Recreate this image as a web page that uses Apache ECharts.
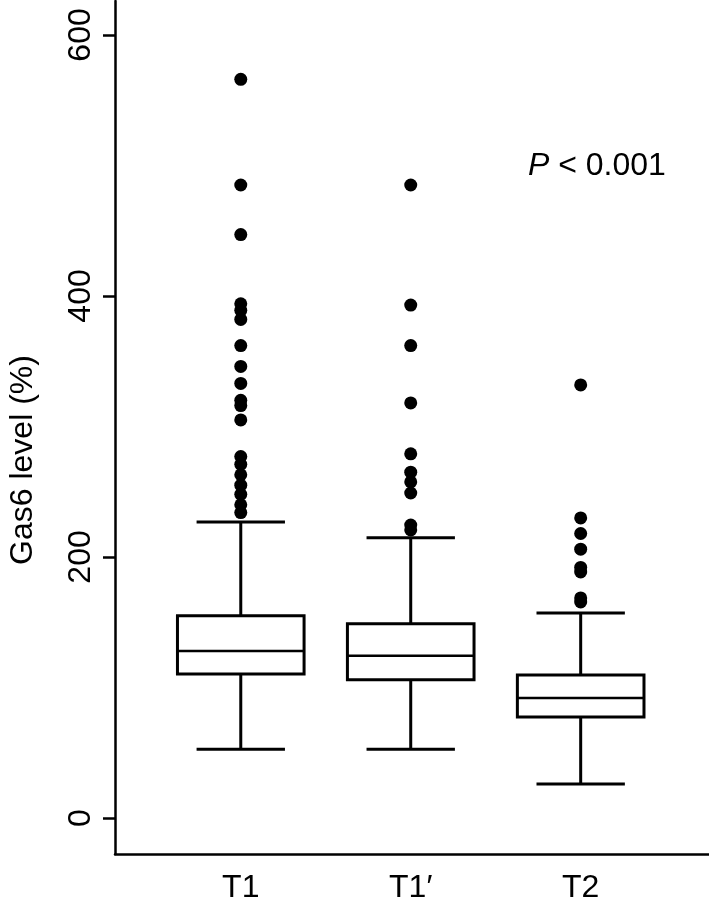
<!DOCTYPE html>
<html>
<head>
<meta charset="utf-8">
<script src="https://cdn.jsdelivr.net/npm/echarts@6/dist/echarts.min.js"></script>
<style>
  html, body { margin: 0; padding: 0; background: #fff; }
  #chart { width: 709px; height: 908px; }
</style>
</head>
<body>
<div id="chart"></div>
<script>
// groups on the x axis (value axis, one unit per group)
const categories = ['T1', 'T1\u2032', 'T2']
const groupPos = [1, 2, 3]

// box summary, Gas6 level (%)
const lowWhisker = [52.6, 52.6, 26]
const q1 = [110.3, 106, 77.4]
const median = [128, 124.4, 92]
const q3 = [155, 148.9, 109.6]
const highWhisker = [226.8, 214.8, 157]

// outliers per group
const outT1 = [566, 485, 447, 394, 389, 382, 362, 346, 333, 320, 316, 305, 277, 271, 263, 255, 248, 240, 234]
const outT1b = [485, 393, 362, 318, 279, 265, 257.5, 249, 224.5, 220.7]
const outT2 = [331.8, 229.9, 218, 206, 192, 188.5, 168.6, 165.5]

const yTicks = [0, 200, 400, 600]

const boxData = groupPos.map((x, i) => [x, lowWhisker[i], q1[i], median[i], q3[i], highWhisker[i]])
const outlierData = []
;[outT1, outT1b, outT2].forEach((arr, i) => {
  arr.forEach(v => outlierData.push([groupPos[i], v]))
})

const font = '"Liberation Sans", Arial, Helvetica, sans-serif'

function renderBox(params, api) {
  const x = api.value(0)
  const lo = api.coord([x, api.value(1)])
  const b1 = api.coord([x, api.value(2)])
  const md = api.coord([x, api.value(3)])
  const b3 = api.coord([x, api.value(4)])
  const hi = api.coord([x, api.value(5)])
  const bw = api.size([0.745, 0])[0]
  const cw = api.size([0.52, 0])[0]
  const line = {stroke: '#000', lineWidth: 3}
  return {
    type: 'group',
    children: [
      {type: 'line', shape: {x1: hi[0], y1: hi[1], x2: b3[0], y2: b3[1]}, style: line},
      {type: 'line', shape: {x1: b1[0], y1: b1[1], x2: lo[0], y2: lo[1]}, style: line},
      {type: 'line', shape: {x1: hi[0] - cw / 2, y1: hi[1], x2: hi[0] + cw / 2, y2: hi[1]}, style: line},
      {type: 'line', shape: {x1: lo[0] - cw / 2, y1: lo[1], x2: lo[0] + cw / 2, y2: lo[1]}, style: line},
      {type: 'rect', shape: {x: b3[0] - bw / 2, y: b3[1], width: bw, height: b1[1] - b3[1]},
        style: {stroke: '#000', lineWidth: 3, fill: '#fff'}},
      {type: 'line', shape: {x1: md[0] - bw / 2, y1: md[1], x2: md[0] + bw / 2, y2: md[1]}, style: {stroke: '#000', lineWidth: 2.5}}
    ]
  }
}

const myChart = echarts.init(document.getElementById('chart'))
const options = {
  animation: false,
  backgroundColor: '#fff',
  grid: {
    left: 115,
    right: 0,
    top: 1,
    bottom: 54
  },
  xAxis: {
    type: 'value',
    min: 0.26,
    max: 3.755,
    splitLine: {show: false},
    axisLine: {onZero: false, lineStyle: {color: '#000', width: 2.5}},
    axisTick: {show: false},
    axisLabel: {
      customValues: groupPos,
      formatter: v => categories[Math.round(v) - 1] || '',
      color: '#000',
      fontSize: 32,
      fontFamily: font,
      margin: 18
    }
  },
  yAxis: {
    type: 'value',
    min: -27.6,
    max: 626,
    splitLine: {show: false},
    axisLine: {show: true, onZero: false, lineStyle: {color: '#000', width: 2.5}},
    axisTick: {show: true, customValues: yTicks, length: 12, lineStyle: {color: '#000', width: 2.5}},
    axisLabel: {
      customValues: yTicks,
      rotate: 90,
      color: '#000',
      fontSize: 32,
      fontFamily: font,
      margin: 18
    }
  },
  graphic: [
    {
      type: 'text',
      x: 23,
      y: 460,
      rotation: Math.PI / 2,
      style: {
        text: 'Gas6 level (%)',
        font: '32px ' + font,
        fill: '#000',
        align: 'center',
        verticalAlign: 'middle'
      }
    },
    {
      type: 'text',
      x: 528,
      y: 166,
      style: {
        text: '{i|P} < 0.001',
        font: '32px ' + font,
        fill: '#000',
        align: 'left',
        verticalAlign: 'middle',
        rich: {
          i: {fontStyle: 'italic', fontSize: 32, fontFamily: font, fill: '#000'}
        }
      }
    }
  ],
  series: [
    {
      type: 'custom',
      renderItem: renderBox,
      data: boxData,
      encode: {x: 0, y: [1, 2, 3, 4, 5]},
      z: 2
    },
    {
      type: 'scatter',
      data: outlierData,
      symbol: 'circle',
      symbolSize: 13,
      itemStyle: {color: '#000', opacity: 1},
      z: 3
    }
  ]
}
myChart.setOption(options)
window.addEventListener('resize', () => {
  myChart.resize()
})
</script>
</body>
</html>
